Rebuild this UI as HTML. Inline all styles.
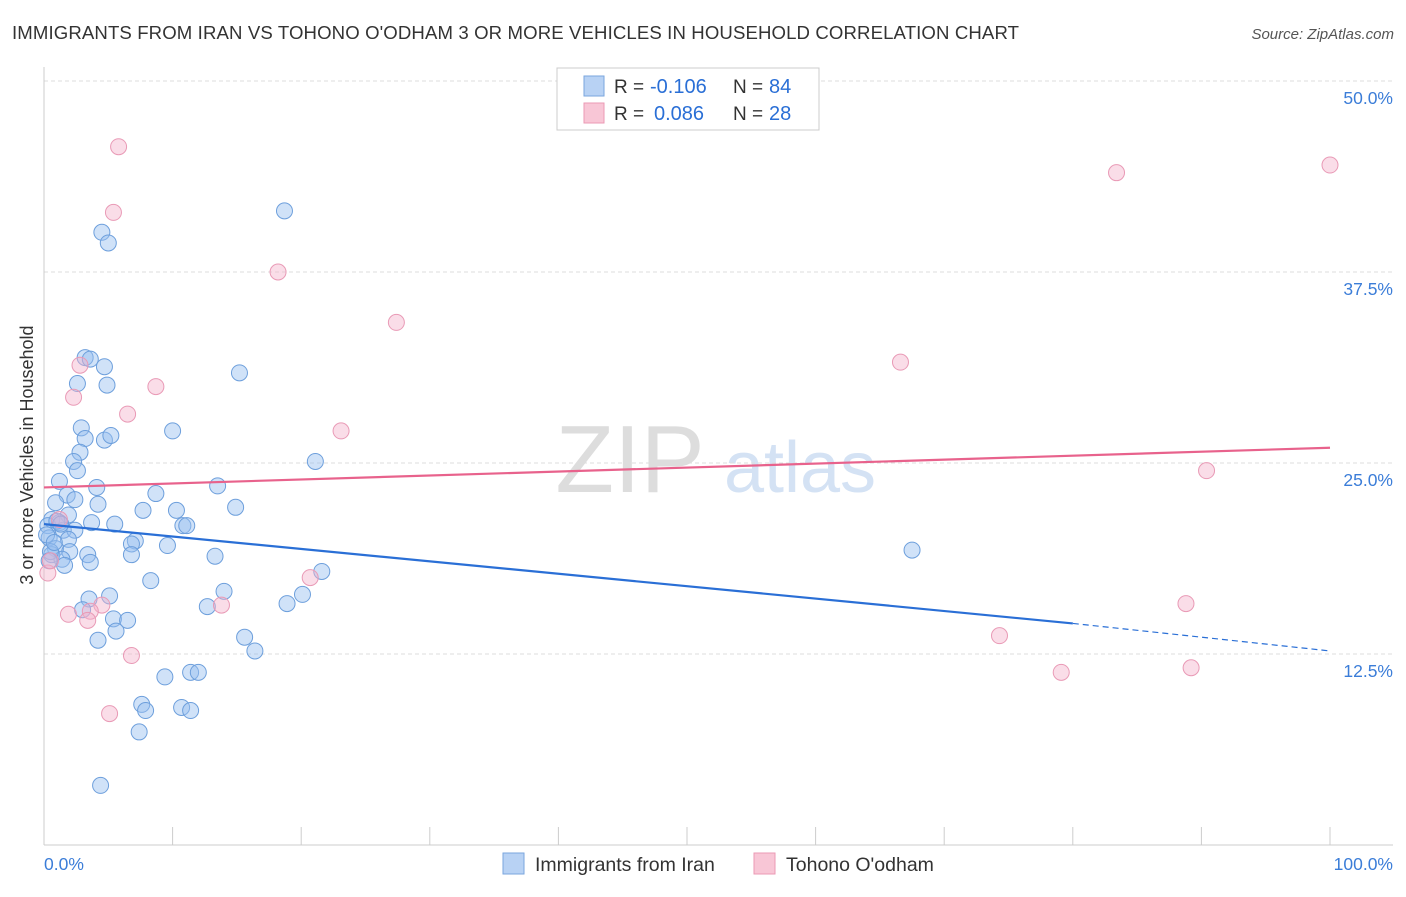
<!DOCTYPE html>
<html><head><meta charset="utf-8"><style>
body{margin:0;background:#fff;font-family:"Liberation Sans",sans-serif;}
svg text{font-family:"Liberation Sans",sans-serif;}
</style></head><body>
<svg id="chart" width="1406" height="892">
<text x="12" y="39" font-size="18.6" fill="#333" textLength="1007">IMMIGRANTS FROM IRAN VS TOHONO O'ODHAM 3 OR MORE VEHICLES IN HOUSEHOLD CORRELATION CHART</text>
<text x="1394" y="39" font-size="15" fill="#555" font-style="italic" text-anchor="end">Source: ZipAtlas.com</text>
<text x="630" y="492" font-size="96" fill="#ddd" font-family="Liberation Serif" text-anchor="middle">ZIP</text>
<text x="800" y="492" font-size="72" fill="#d4e2f4" text-anchor="middle">atlas</text>
<g id="grid"></g><g id="axes"></g><g id="pts"></g><g id="lines"></g>
<text x="33" y="455" font-size="18" fill="#333" text-anchor="middle" transform="rotate(-90 33 455)">3 or more Vehicles in Household</text>
<g>
<rect x="557" y="68" width="262" height="62" fill="#fff" stroke="#ccc"/>
<rect x="584" y="76" width="20" height="20" fill="#b8d2f4" stroke="#7aa6de"/>
<rect x="584" y="103" width="20" height="20" fill="#f8c6d6" stroke="#eb9ab4"/>
<text x="614" y="93" font-size="19" fill="#333">R =</text>
<text x="650" y="93" font-size="20" fill="#2a6fd6">-0.106</text>
<text x="733" y="93" font-size="19" fill="#333">N =</text>
<text x="769" y="93" font-size="20" fill="#2a6fd6">84</text>
<text x="614" y="120" font-size="19" fill="#333">R =</text>
<text x="654" y="120" font-size="20" fill="#2a6fd6">0.086</text>
<text x="733" y="120" font-size="19" fill="#333">N =</text>
<text x="769" y="120" font-size="20" fill="#2a6fd6">28</text>
</g>
<g>
<rect x="503" y="853" width="21" height="21" fill="#b8d2f4" stroke="#7aa6de"/>
<text x="535" y="871" font-size="19.5" fill="#333">Immigrants from Iran</text>
<rect x="754" y="853" width="21" height="21" fill="#f8c6d6" stroke="#eb9ab4"/>
<text x="786" y="871" font-size="19.5" fill="#333">Tohono O'odham</text>
</g>
</svg>
<script>
const yTicks=[12.5,25,37.5,50];
const xTickLabels=["0.0%","100.0%"];
const blueX=[18.7,4.5,5.0,15.2,3.2,3.6,4.7,2.6,4.9,2.9,10.0,3.2,4.7,5.2,2.8,2.3,21.1,2.6,1.2,4.1,13.5,1.8,8.7,2.4,0.9,4.2,14.9,7.7,10.3,1.9,0.6,1.2,0.3,3.7,5.5,10.8,11.1,1.5,2.4,0.4,1.9,7.1,6.8,9.6,0.9,2.0,0.6,3.4,6.8,13.3,67.5,1.4,3.6,1.6,21.6,8.3,14.0,20.1,5.1,3.5,18.9,12.7,3.0,5.4,6.5,5.6,15.6,4.2,16.4,11.4,12.0,9.4,7.6,7.9,10.7,11.4,7.4,4.4,0.5,0.2,1.0,0.4,1.3,0.8];
const blueY=[41.5,40.1,39.4,30.9,31.9,31.8,31.3,30.2,30.1,27.3,27.1,26.6,26.5,26.8,25.7,25.1,25.1,24.5,23.8,23.4,23.5,22.9,23.0,22.6,22.4,22.3,22.1,21.9,21.9,21.6,21.3,21.1,20.9,21.1,21.0,20.9,20.9,20.6,20.6,20.1,20.0,19.9,19.7,19.6,19.4,19.2,19.0,19.0,19.0,18.9,19.3,18.7,18.5,18.3,17.9,17.3,16.6,16.4,16.3,16.1,15.8,15.6,15.4,14.8,14.7,14.0,13.6,13.4,12.7,11.3,11.3,11.0,9.2,8.8,9.0,8.8,7.4,3.9,19.2,20.3,21.2,18.6,21.0,19.8];
const pinkX=[5.8,5.4,18.2,27.4,83.4,100,2.8,8.7,2.3,6.5,23.1,66.6,90.4,0.3,20.7,4.5,13.8,3.6,1.9,3.4,88.8,74.3,6.8,79.1,89.2,5.1,1.2,0.5];
const pinkY=[45.7,41.4,37.5,34.2,44.0,44.5,31.4,30.0,29.3,28.2,27.1,31.6,24.5,17.8,17.5,15.7,15.7,15.3,15.1,14.7,15.8,13.7,12.4,11.3,11.6,8.6,21.3,18.6];
const blueTrend=[21.0,14.5,12.7]; // at x=0, 80, 100
const pinkTrend=[23.4,26.0]; // at x=0,100
const X=v=>44+v*12.86, Y=v=>845-v*15.28;
const NS="http://www.w3.org/2000/svg";
function mk(t,a,p){const e=document.createElementNS(NS,t);for(const k in a)e.setAttribute(k,a[k]);document.getElementById(p).appendChild(e);return e;}
yTicks.forEach(t=>{
 const l=mk('line',{x1:44,x2:1393,y1:Y(t),y2:Y(t),stroke:'#ddd','stroke-dasharray':'4 3'},'grid');
 
 
 const tx=mk('text',{x:1393,y:Y(t)+23,'font-size':17.5,fill:'#3b7dd8','text-anchor':'end'},'grid');
 tx.textContent=t.toFixed(1)+'%';
 
 
});
mk('line',{x1:44,x2:44,y1:67,y2:845,stroke:'#ccc'},'axes');
mk('line',{x1:44,x2:1393,y1:845,y2:845,stroke:'#ccc'},'axes');
for(let i=0;i<=10;i++){const t=mk('line',{x1:X(i*10),x2:X(i*10),y1:827,y2:845,stroke:'#ccc'},'axes');
 
 }
[[0,'start',44],[1,'end',1393]].forEach(([i,a,x])=>{const t=mk('text',{x:x,y:870,'font-size':17.5,fill:'#3b7dd8','text-anchor':a},'axes');t.textContent=xTickLabels[i];
 
 });
blueX.forEach((v,i)=>{const c=mk('circle',{cx:X(v),cy:Y(blueY[i]),r:8,fill:'rgba(150,190,240,0.45)',stroke:'#6d9fdc','stroke-width':1},'pts');
 
 });
pinkX.forEach((v,i)=>{const c=mk('circle',{cx:X(v),cy:Y(pinkY[i]),r:8,fill:'rgba(245,180,205,0.45)',stroke:'#e99ab6','stroke-width':1},'pts');
 
 });
let l=mk('line',{x1:X(0),y1:Y(blueTrend[0]),x2:X(80),y2:Y(blueTrend[1]),stroke:'#2a6fd6','stroke-width':2.2},'lines');


l=mk('line',{x1:X(80),y1:Y(blueTrend[1]),x2:X(100),y2:Y(blueTrend[2]),stroke:'#2a6fd6','stroke-width':1.2,'stroke-dasharray':'6 4'},'lines');


l=mk('line',{x1:X(0),y1:Y(pinkTrend[0]),x2:X(100),y2:Y(pinkTrend[1]),stroke:'#e8628c','stroke-width':2.2},'lines');


</script>
</body></html>
